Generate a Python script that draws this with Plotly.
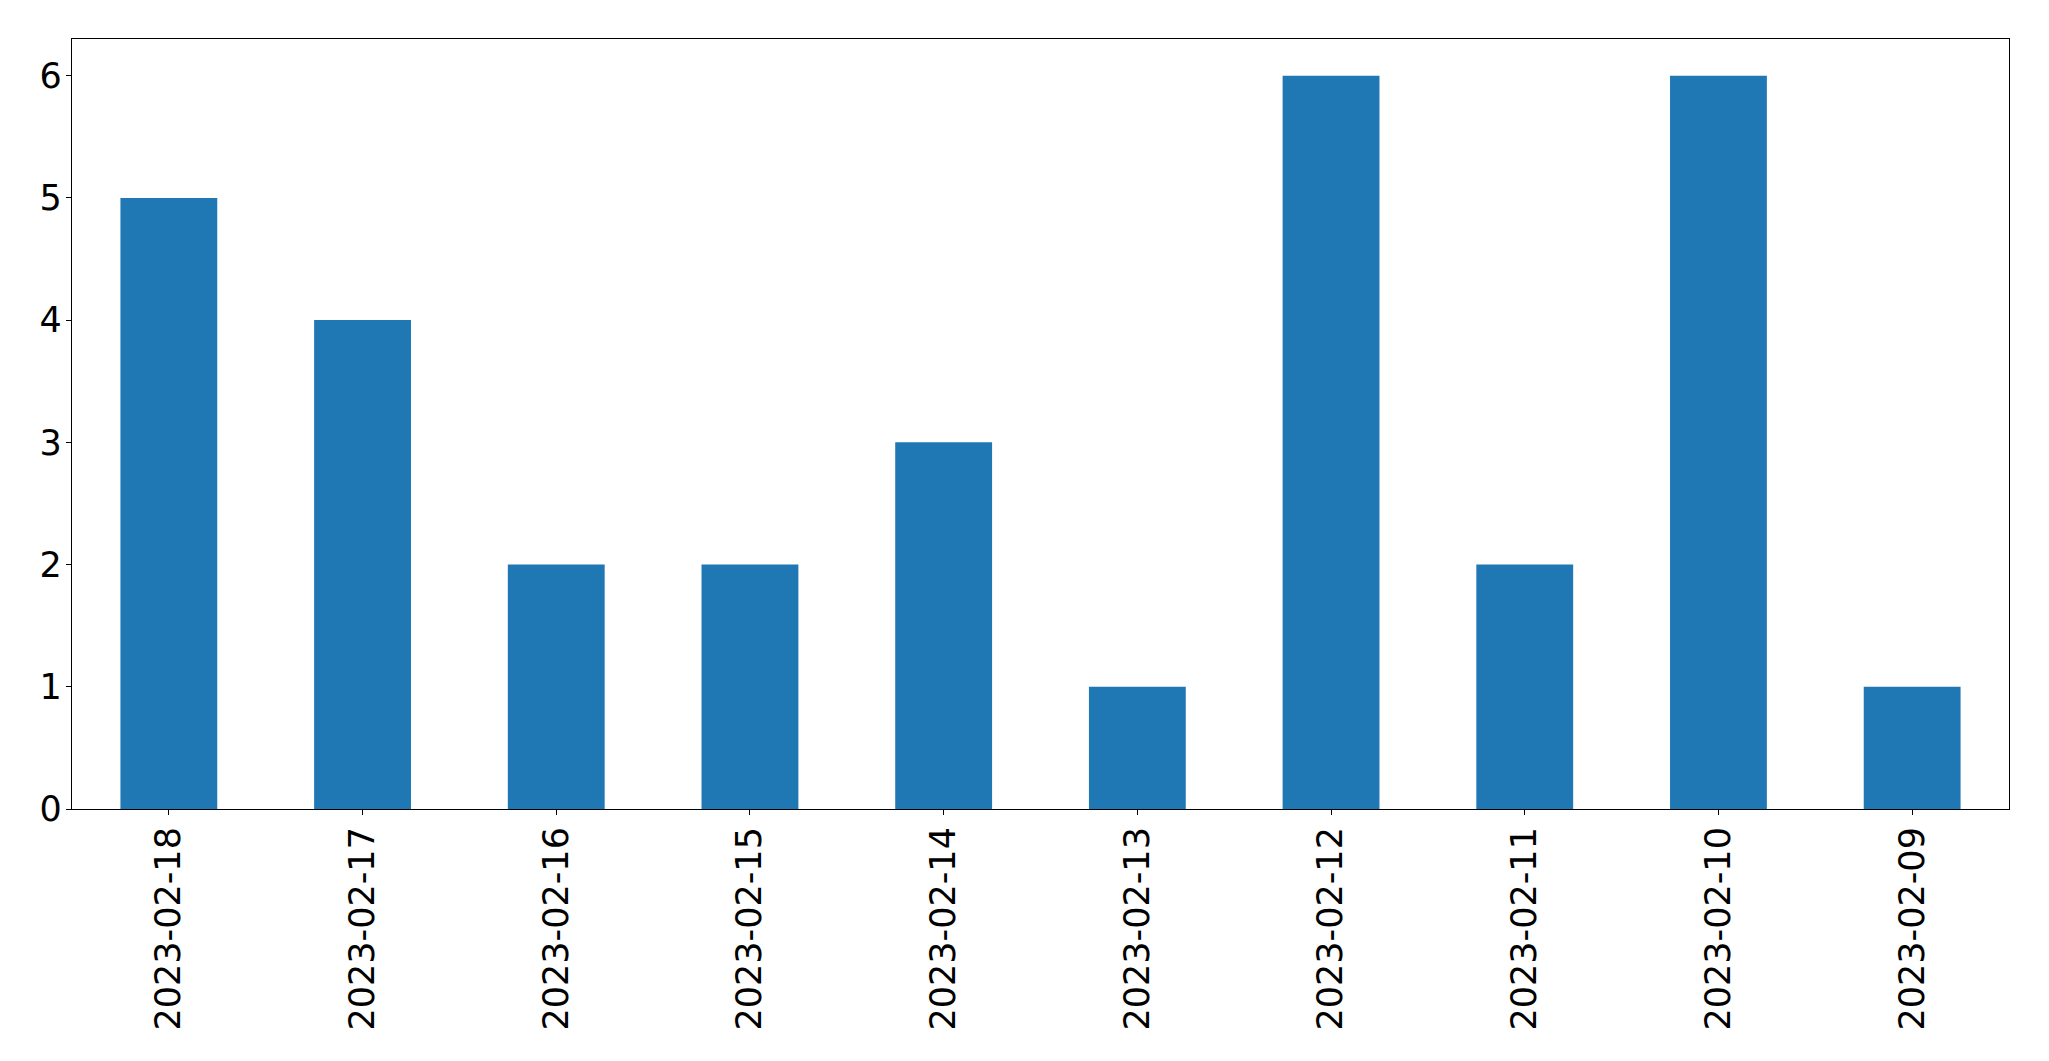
import plotly.graph_objects as go

dates = ["2023-02-18", "2023-02-17", "2023-02-16", "2023-02-15", "2023-02-14",
         "2023-02-13", "2023-02-12", "2023-02-11", "2023-02-10", "2023-02-09"]
counts = [5, 4, 2, 2, 3, 1, 6, 2, 6, 1]
y_ticks = [0, 1, 2, 3, 4, 5, 6]

fig = go.Figure(go.Bar(x=dates, y=counts, width=0.5, marker_color="#1f77b4",
                       marker_line_width=0))

font = dict(family="DejaVu Sans", size=35, color="black")
# page body has an 8px margin, so the figure is offset by 8px
fig.update_layout(
    width=2049, height=1061,
    margin=dict(l=64, r=48, t=31, b=260, pad=0, autoexpand=False),
    plot_bgcolor="white", paper_bgcolor="white",
    showlegend=False,
    font=font,
)
fig.update_xaxes(type="category", range=[-0.5, 9.5], tickangle=-90,
                 showline=True, linecolor="black", linewidth=1.2, mirror=True,
                 ticks="outside", ticklen=5, tickwidth=1.2, tickcolor="black",
                 showgrid=False, tickfont=font, ticklabelstandoff=-2, automargin=False)
fig.update_yaxes(range=[0, 6.3], tickvals=y_ticks,
                 showline=True, linecolor="black", linewidth=1.2, mirror=True,
                 ticks="outside", ticklen=5, tickwidth=1.2, tickcolor="black",
                 showgrid=False, zeroline=False, tickfont=font, ticklabelstandoff=-3,
                 automargin=False)

fig.write_html("out.html")
